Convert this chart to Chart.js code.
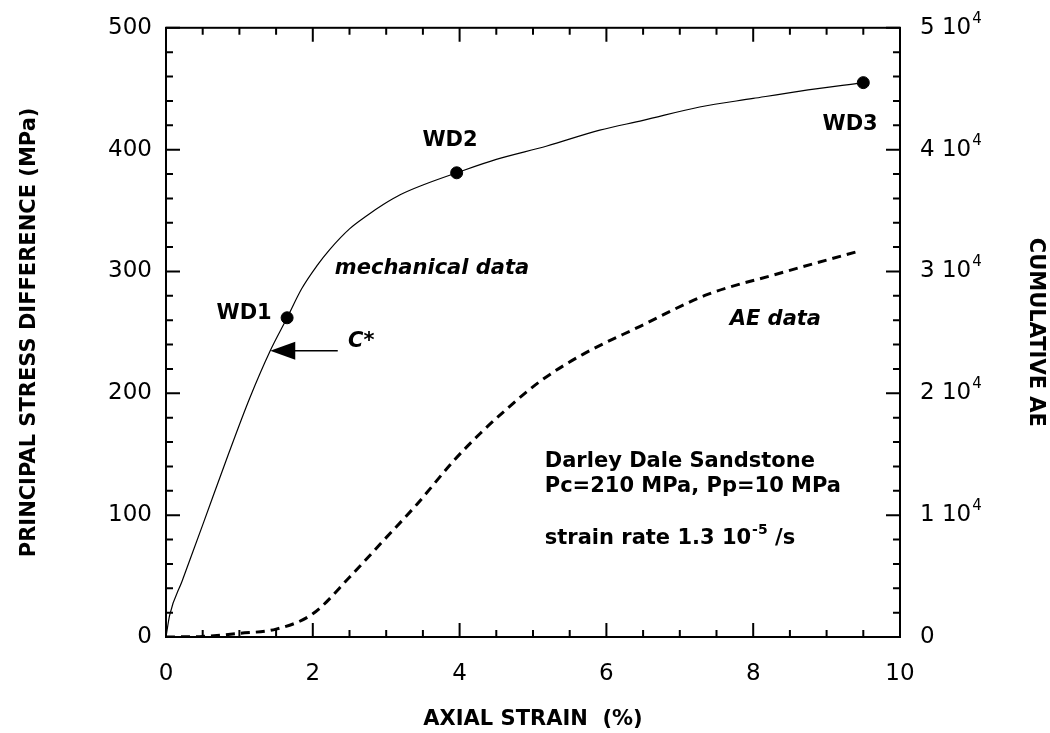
<!DOCTYPE html>
<html>
<head>
<meta charset="utf-8">
<script src="https://cdn.jsdelivr.net/npm/chart.js"></script>
<style>
  html, body { margin: 0; padding: 0; background: #fff; }
  canvas { display: block; }
</style>
</head>
<body>
<canvas id="strainChart" width="1050" height="733"></canvas>
<script>
// Darley Dale sandstone triaxial test: stress-strain curve and cumulative AE

// mechanical data: axial strain (%) vs principal stress difference (MPa)
const strainMech = [0, 0.05, 0.22, 0.5, 0.85, 1.14, 1.42, 1.65, 1.85, 2.06, 2.23, 2.5, 2.74, 2.96, 3.19, 3.5, 3.96, 4.5, 5.19, 5.91, 6.5, 7.27, 8.0, 8.64, 9.5];
const stressMech = [0, 18, 46, 92, 150, 196, 235, 262, 286, 305, 318, 335, 346, 355, 363, 371, 381, 392, 403, 416, 424, 435, 442, 448, 455];

// AE data: axial strain (%) vs cumulative AE count
const strainAE = [0, 0.5, 1.0, 1.5, 2.0, 2.5, 2.96, 3.42, 3.91, 4.28, 4.64, 5.1, 5.68, 6.46, 7.37, 8.27, 9.46];
const cumulativeAE = [0, 50, 300, 650, 1900, 4900, 7900, 10900, 14400, 16700, 18700, 21000, 23200, 25500, 28100, 29700, 31700];

// sample stop points
const wdLabels = ['WD1', 'WD2', 'WD3'];
const wdStrain = [1.65, 3.96, 9.5];
const wdStress = [262, 381, 455];

// onset of shear-enhanced compaction
const cStarStrain = 1.42;
const cStarStress = 235;

const strainTicks = [0, 2, 4, 6, 8, 10];
const stressTicks = [0, 100, 200, 300, 400, 500];
const aeTicks = [0, 10000, 20000, 30000, 40000, 50000];

const FONT = '"DejaVu Sans", sans-serif';

function drawSup(ctx, x, y, base, sup, size) {
  ctx.font = size.base;
  ctx.fillText(base, x, y);
  const w = ctx.measureText(base).width;
  ctx.font = size.sup;
  ctx.fillText(sup, x + w + 1, y - size.rise);
  return x + w + 1 + ctx.measureText(sup).width;
}

const axisFrame = {
  id: 'axisFrame',
  afterDraw(chart) {
    const { ctx, chartArea: a, scales: { x, y, y2 } } = chart;
    ctx.save();
    ctx.strokeStyle = '#000';
    ctx.fillStyle = '#000';
    ctx.lineWidth = 2;
    ctx.strokeRect(a.left, a.top, a.right - a.left, a.bottom - a.top);

    // inward ticks on all four sides
    ctx.beginPath();
    for (let v = 0; v <= 10.001; v += 0.5) {
      const px = x.getPixelForValue(v);
      const len = Math.abs(v % 2) < 1e-6 ? 14 : 7;
      ctx.moveTo(px, a.bottom); ctx.lineTo(px, a.bottom - len);
      ctx.moveTo(px, a.top); ctx.lineTo(px, a.top + len);
    }
    for (let v = 0; v <= 500; v += 20) {
      const py = y.getPixelForValue(v);
      const len = v % 100 === 0 ? 14 : 7;
      ctx.moveTo(a.left, py); ctx.lineTo(a.left + len, py);
    }
    for (let v = 0; v <= 50000; v += 2000) {
      const py = y2.getPixelForValue(v);
      const len = v % 10000 === 0 ? 14 : 7;
      ctx.moveTo(a.right, py); ctx.lineTo(a.right - len, py);
    }
    ctx.stroke();

    // right axis labels, written as "n 10^4"
    ctx.textAlign = 'left';
    ctx.textBaseline = 'middle';
    aeTicks.forEach(v => {
      const py = y2.getPixelForValue(v);
      if (v === 0) {
        ctx.font = '23px ' + FONT;
        ctx.fillText('0', a.right + 20, py);
      } else {
        drawSup(ctx, a.right + 20, py, (v / 10000) + ' 10', '4',
          { base: '23px ' + FONT, sup: '15px ' + FONT, rise: 9 });
      }
    });

    // annotations
    const bold = 'bold 21px ' + FONT;
    const label = (txt, xv, yv, align, font) => {
      ctx.font = font || bold;
      ctx.textAlign = align;
      ctx.textBaseline = 'alphabetic';
      ctx.fillText(txt, x.getPixelForValue(xv), y.getPixelForValue(yv));
    };
    label(wdLabels[0], 1.44, 261, 'right');
    label(wdLabels[1], 3.87, 403, 'center');
    label(wdLabels[2], 9.32, 416, 'center');
    label('mechanical data', 2.30, 298, 'left', 'italic bold 21px ' + FONT);
    label('AE data', 7.68, 256, 'left', 'italic bold 21px ' + FONT);
    label('C*', 2.48, 238, 'left', 'italic bold 21px ' + FONT);
    label('Darley Dale Sandstone', 5.16, 139.5, 'left');
    label('Pc=210 MPa, Pp=10 MPa', 5.16, 119, 'left');

    ctx.textAlign = 'left';
    ctx.textBaseline = 'alphabetic';
    const sx = x.getPixelForValue(5.16);
    const sy = y.getPixelForValue(76.6);
    const end = drawSup(ctx, sx, sy, 'strain rate 1.3 10', '-5',
      { base: bold, sup: 'bold 14px ' + FONT, rise: 10 });
    ctx.font = bold;
    ctx.fillText(' /s', end, sy);

    // C* arrow
    const tipX = x.getPixelForValue(cStarStrain);
    const tipY = y.getPixelForValue(cStarStress);
    const tailX = x.getPixelForValue(2.34);
    ctx.lineWidth = 1.5;
    ctx.beginPath();
    ctx.moveTo(tipX + 20, tipY);
    ctx.lineTo(tailX, tipY);
    ctx.stroke();
    ctx.beginPath();
    ctx.moveTo(tipX, tipY);
    ctx.lineTo(tipX + 25, tipY - 9);
    ctx.lineTo(tipX + 25, tipY + 9);
    ctx.closePath();
    ctx.fill();
    ctx.restore();
  }
};

const ctx = document.getElementById('strainChart').getContext('2d');
new Chart(ctx, {
  type: 'scatter',
  data: {
    datasets: [
      {
        label: 'mechanical data',
        data: strainMech.map((s, i) => ({ x: s, y: stressMech[i] })),
        showLine: true,
        borderColor: '#000',
        borderWidth: 1.2,
        pointRadius: 0,
        cubicInterpolationMode: 'monotone',
        yAxisID: 'y'
      },
      {
        label: 'AE data',
        data: strainAE.map((s, i) => ({ x: s, y: cumulativeAE[i] })),
        showLine: true,
        borderColor: '#000',
        borderWidth: 3,
        borderDash: [9, 6],
        pointRadius: 0,
        cubicInterpolationMode: 'monotone',
        yAxisID: 'y2'
      },
      {
        label: 'WD',
        data: wdStrain.map((s, i) => ({ x: s, y: wdStress[i] })),
        pointRadius: 6,
        backgroundColor: '#000',
        borderColor: '#000',
        yAxisID: 'y'
      }
    ]
  },
  options: {
    responsive: false,
    animation: false,
    layout: { padding: { top: 24, left: 0, right: 0, bottom: 0 } },
    plugins: { legend: { display: false }, tooltip: { enabled: false } },
    scales: {
      x: {
        type: 'linear',
        min: 0, max: 10,
        afterFit(s) { s.height = 96; },
        afterBuildTicks(s) { s.ticks = strainTicks.map(v => ({ value: v })); },
        grid: { display: false, drawTicks: false },
        border: { display: false },
        ticks: { padding: 23, color: '#000', font: { family: FONT, size: 23 } },
        title: {
          display: true, text: 'AXIAL STRAIN  (%)', color: '#000',
          font: { family: FONT, size: 21, weight: 'bold' },
          padding: { top: 0, bottom: 1 }
        }
      },
      y: {
        position: 'left',
        min: 0, max: 500,
        afterFit(s) { s.width = 166; },
        afterBuildTicks(s) { s.ticks = stressTicks.map(v => ({ value: v })); },
        grid: { display: false, drawTicks: false },
        border: { display: false },
        ticks: { padding: 14, color: '#000', font: { family: FONT, size: 23 } },
        title: {
          display: true, text: 'PRINCIPAL STRESS DIFFERENCE (MPa)', color: '#000',
          font: { family: FONT, size: 21, weight: 'bold' },
          padding: { top: 17, bottom: 0 }
        }
      },
      y2: {
        position: 'right',
        min: 0, max: 50000,
        afterFit(s) { s.width = 150; },
        afterBuildTicks(s) { s.ticks = aeTicks.map(v => ({ value: v })); },
        grid: { display: false, drawTicks: false },
        border: { display: false },
        ticks: { display: false },
        title: {
          display: true, text: 'CUMULATIVE AE', color: '#000',
          font: { family: FONT, size: 21, weight: 'bold' },
          padding: { top: 2, bottom: 0 }
        }
      }
    }
  },
  plugins: [axisFrame]
});
</script>
</body>
</html>
